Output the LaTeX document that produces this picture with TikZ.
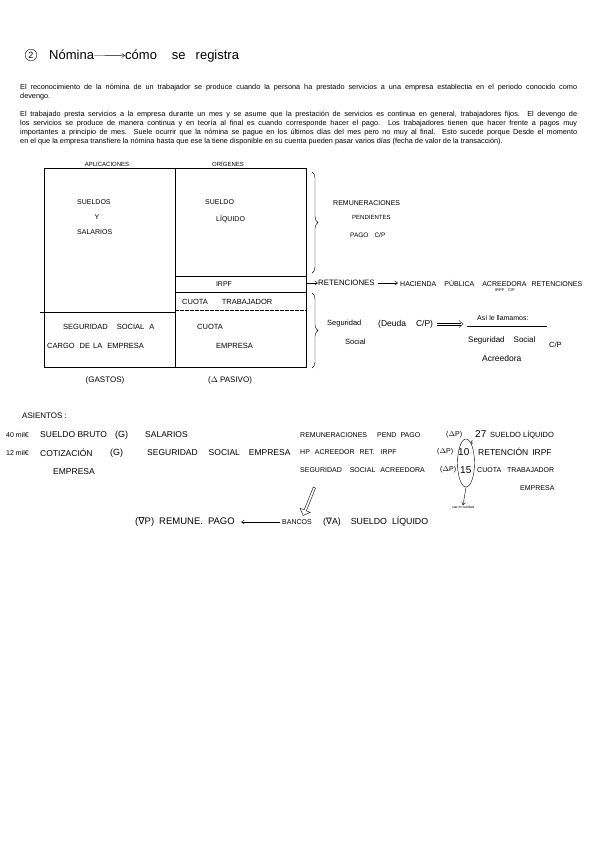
\documentclass[tikz,border=0pt]{standalone}
\usepackage{fontspec}
\setmainfont{Liberation Sans}
\newfontfamily\symfont{DejaVu Sans}
\usetikzlibrary{arrows.meta, decorations.pathreplacing, shapes.arrows, shapes.geometric}

\tikzset{
  hw/.style={anchor=west, inner sep=0pt, font=\fontsize{7}{8}\selectfont},
  hwc/.style={hw, anchor=center},
  hwb/.style={hw, font=\fontsize{8.5}{9}\selectfont},
  num/.style={hw, font=\fontsize{10}{11}\selectfont},
  tbl/.style={line width=0.5pt},
  pen/.style={line width=0.4pt, -{Straight Barb[length=3pt, width=4pt]}},
  para/.style={anchor=north west, inner sep=0pt, text width=557pt, align=justify,
    font=\fontsize{7.3}{9.1}\selectfont}
}

\begin{document}
\begin{tikzpicture}[x=1pt, y=-1pt]
  \useasboundingbox (0,0) rectangle (599,848);

  % --- Title ---
  \node[draw, circle, inner sep=1.3pt, line width=0.4pt, font=\fontsize{9}{10}\selectfont] (titnum) at (31,55) {2};
  \node[hw, font=\fontsize{13}{14}\selectfont] (nomina) at (49,55) {Nómina};
  \node[hw, font=\fontsize{13}{14}\selectfont] (como) at (125,56) {cómo\hspace{15pt}se\hspace{10pt}registra};
  \draw[pen] (nomina) -- (como);

  % --- Text paragraphs ---
  \node[para] (par1) at (20,84) {El reconocimiento de la nómina de un trabajador se produce cuando la persona ha prestado servicios a una empresa establectia en el periodo conocido como\linebreak devengo.};
  \node[para] (par2) at (20,111) {El trabajado presta servicios a la empresa durante un mes y se asume que la prestación de servicios es continua en general, trabajadores fijos. El devengo de\linebreak los servicios se produce de manera continua y en teoría al final es cuando corresponde hacer el pago. Los trabajadores tienen que hacer frente a pagos muy\linebreak importantes a principio de mes. Suele ocurrir que la nómina se pague en los últimos días del mes pero no muy al final. Esto sucede porque Desde el momento\linebreak en el que la empresa transfiere la nómina hasta que ese la tiene disponible en su cuenta pueden pasar varios días (fecha de valor de la transacción).};

  % --- Table: aplicaciones | origenes ---
  \node[hwc, font=\fontsize{6}{7}\selectfont] (aplic) at (107,164) {APLICACIONES};
  \node[hwc, font=\fontsize{6}{7}\selectfont] (orig) at (228,164) {ORÍGENES};
  \draw[tbl] (44,168) rectangle (306,367);
  \draw[tbl] (175,168) -- (175,367);
  \draw[tbl] (175,276) -- (306,276);
  \draw[tbl] (175,292) -- (306,292);
  \draw[tbl] (40,312) -- (175,312);
  \draw[tbl, dash pattern=on 4pt off 1pt] (175,310) -- (306,310);

  \node[hw] (sueldos) at (77,202) {SUELDOS};
  \node[hwc] (y) at (97,217) {Y};
  \node[hw] (salarios) at (77,232) {SALARIOS};
  \node[hw] (sueldo) at (205,202) {SUELDO};
  \node[hw] (liquido) at (216,219) {LÍQUIDO};
  \node[hwc] (irpf) at (224,284) {IRPF};
  \node[hw, font=\fontsize{7.5}{8}\selectfont] (cuotatrab) at (182,302) {CUOTA\hspace{14pt}TRABAJADOR};
  \node[hw, font=\fontsize{7.5}{8}\selectfont] (segsoc) at (63,327) {SEGURIDAD\hspace{9pt}SOCIAL\hspace{5pt}A};
  \node[hw, font=\fontsize{7.5}{8}\selectfont] (cargo) at (47,346) {CARGO\hspace{5pt}DE\hspace{3pt}LA\hspace{5pt}EMPRESA};
  \node[hw, font=\fontsize{7.5}{8}\selectfont] (cuota) at (197,327) {CUOTA};
  \node[hw, font=\fontsize{7.5}{8}\selectfont] (empresa) at (216,346) {EMPRESA};
  \node[hwc, font=\fontsize{8}{9}\selectfont] (gastos) at (105,380) {(GASTOS)};
  \node[hwc, font=\fontsize{8}{9}\selectfont] (apasivo) at (230,380) {(\(\Delta\) PASIVO)};

  % --- Braces and notes on the right ---
  \draw[line width=0.4pt, decorate, decoration={brace, amplitude=6pt}] (312,172) -- (312,273);
  \draw[line width=0.4pt, decorate, decoration={brace, amplitude=6pt}] (312,293) -- (312,368);

  \node[hw] (remun) at (333,203) {REMUNERACIONES};
  \node[hw, font=\fontsize{6}{7}\selectfont] (pend) at (352,217) {PENDIENTES};
  \node[hw, font=\fontsize{6.5}{7}\selectfont] (pagocp) at (350,235) {PAGO\hspace{6pt}C/P};

  \coordinate (retstart) at (307,283);
  \node[hw, font=\fontsize{7.8}{8}\selectfont] (ret) at (318,283) {RETENCIONES};
  \node[hw] (hacienda) at (400,283) {HACIENDA\hspace{8pt}PÚBLICA\hspace{8pt}ACREEDORA\hspace{5pt}RETENCIONES};
  \node[hwc, font=\fontsize{4}{5}\selectfont] (irpfcp) at (505,290.5) {IRPF\hspace{4pt}C/P};
  \draw[pen] (retstart) -- (ret);
  \draw[pen, shorten <=3pt, shorten >=2pt] (ret) -- (hacienda);

  \node[hw, font=\fontsize{7.5}{8}\selectfont] (seguridad) at (327,324) {Seguridad};
  \node[hw, font=\fontsize{8.5}{9}\selectfont] (deuda) at (378,324) {(Deuda\hspace{10pt}C/P)};
  \node[hw, font=\fontsize{7.5}{8}\selectfont] (social) at (345,342) {Social};
  \coordinate (implend) at (463,324);
  % double shaft and tip of the implication arrow
  \draw[line width=0.4pt, shorten <=4pt, shorten >=2pt] ([yshift=1.3pt]deuda.east) -- ([yshift=1.3pt]implend);
  \draw[line width=0.4pt, shorten <=4pt, shorten >=2pt] ([yshift=-1.3pt]deuda.east) -- ([yshift=-1.3pt]implend);
  \draw[line width=0.4pt] ([xshift=-4pt, yshift=3.5pt]implend) -- (implend) -- ([xshift=-4pt, yshift=-3.5pt]implend);

  \node[hw, font=\fontsize{7}{8}\selectfont] (asi) at (477,318) {Así le llamamos:};
  \draw[line width=0.4pt] (467,326) -- (547,326);
  \node[hw, font=\fontsize{8}{9}\selectfont] (sscp) at (468,340) {Seguridad\hspace{9pt}Social};
  \node[hw, font=\fontsize{7.5}{8}\selectfont] (cp) at (549,345) {C/P};
  \node[hw, font=\fontsize{8.5}{9}\selectfont] (acreed) at (482,358) {Acreedora};

  % --- Asientos ---
  \node[hw, font=\fontsize{8}{9}\selectfont] (asientos) at (22,416) {ASIENTOS :};

  \node[hw] (cuarenta) at (6,435) {40 mil€};
  \node[hwb] (bruto) at (40,435) {SUELDO BRUTO};
  \node[hw, font=\fontsize{9}{10}\selectfont] (g1) at (115,435) {(G)};
  \node[hwb] (salar) at (145,435) {SALARIOS};

  \node[hw] (doce) at (6,453) {12 mil€};
  \node[hwb] (cotiz) at (40,453) {COTIZACIÓN};
  \node[hw, font=\fontsize{9}{10}\selectfont] (g2) at (110,453) {(G)};
  \node[hwb] (ssemp) at (147,453) {SEGURIDAD\hspace{11pt}SOCIAL\hspace{9pt}EMPRESA};
  \node[hwb] (emp1) at (53,472) {EMPRESA};

  \node[hw] (remped) at (300,435) {REMUNERACIONES\hspace{10pt}PEND\hspace{4pt}PAGO};
  \node[hw] (dp1) at (446,435) {(\(\Delta\)P)};
  \node[num] (d27) at (475,434) {27};
  \node[hw, font=\fontsize{7.5}{8}\selectfont] (sliq) at (490,435) {SUELDO LÍQUIDO};

  \node[hw] (hpacr) at (300,452) {HP\hspace{5pt}ACREEDOR\hspace{5pt}RET.\hspace{6pt}IRPF};
  \node[hw] (dp2) at (437,452) {(\(\Delta\)P)};
  \node[num] (d10) at (458,452) {10};
  \node[hwc, font=\fontsize{5}{6}\selectfont] (euro) at (472,443) {€};
  \node[hw, font=\fontsize{8.5}{9}\selectfont] (retirpf) at (478,452) {RETENCIÓN\hspace{4pt}IRPF};

  \node[hw] (ssacr) at (300,470) {SEGURIDAD\hspace{8pt}SOCIAL\hspace{5pt}ACREEDORA};
  \node[hw] (dp3) at (440,470) {(\(\Delta\)P)};
  \node[num] (d15) at (460,470) {15};
  \node[hw] (cuotatra) at (477,470) {CUOTA\hspace{6pt}TRABAJADOR};
  \node[hw] (emp2) at (520,488) {EMPRESA};

  \node[ellipse, draw, line width=0.4pt, minimum width=17pt, minimum height=48pt] (oval) at (466,463) {};
  \node[hwc, font=\fontsize{3.5}{4}\selectfont] (cae) at (463,507) {cae en unidad};
  \draw[pen] (oval.south) -- (cae.north);

  % --- Payment ---
  \node[single arrow, draw, line width=0.4pt, rotate=-112, minimum height=30pt,
    minimum width=11pt, single arrow head extend=2.5pt, inner sep=0.5pt] (flecha) at (309,501) {};

  \node[hw, font=\fontsize{9.5}{10}\selectfont] (remune) at (135,522) {({\symfont ∇}P)\hspace{5pt}REMUNE.\hspace{5pt}PAGO};
  \node[hw] (bancos) at (282,522) {BANCOS};
  \node[hw, font=\fontsize{8.8}{10}\selectfont] (da) at (323,522) {({\symfont ∇}A)\hspace{10pt}SUELDO\hspace{5pt}LÍQUIDO};
  \draw[pen, shorten <=2pt, shorten >=6pt] (bancos) -- (remune);
\end{tikzpicture}
\end{document}
